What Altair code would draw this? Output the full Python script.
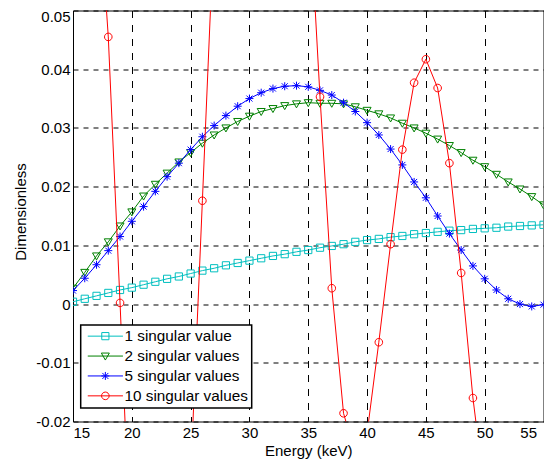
import altair as alt
import pandas as pd

energy = list(range(15, 56))

names = ["1 singular value", "2 singular values", "5 singular values", "10 singular values"]
colors = ["#00BFBF", "#008000", "#0000FF", "#FF0000"]

sv1 = [0.0004, 0.0009, 0.0014, 0.0019, 0.0024, 0.0028, 0.0033, 0.0038, 0.0043, 0.0047,
       0.0052, 0.0057, 0.0061, 0.0066, 0.0070, 0.0074, 0.0078, 0.0082, 0.0085, 0.0089,
       0.0092, 0.0096, 0.0099, 0.0102, 0.0106, 0.0109, 0.0111, 0.0114, 0.0116, 0.0119,
       0.0121, 0.0123, 0.0125, 0.0126, 0.0128, 0.0129, 0.0130, 0.0132, 0.0133, 0.0134,
       0.0135]
sv2 = [0.0027, 0.0054, 0.0082, 0.0106, 0.0133, 0.0157, 0.0184, 0.0204, 0.0223, 0.0242,
       0.0258, 0.0274, 0.0288, 0.0300, 0.0311, 0.0320, 0.0328, 0.0333, 0.0338, 0.0341,
       0.0343, 0.0342, 0.0342, 0.0341, 0.0336, 0.0330, 0.0324, 0.0317, 0.0308, 0.0300,
       0.0291, 0.0281, 0.0270, 0.0258, 0.0245, 0.0234, 0.0221, 0.0208, 0.0196, 0.0183,
       0.0169]
sv5 = [0.0023, 0.0044, 0.0067, 0.0091, 0.0115, 0.0141, 0.0166, 0.0192, 0.0217, 0.0240,
       0.0263, 0.0285, 0.0304, 0.0321, 0.0337, 0.0350, 0.0360, 0.0367, 0.0371, 0.0372,
       0.0370, 0.0364, 0.0356, 0.0343, 0.0328, 0.0309, 0.0288, 0.0264, 0.0237, 0.0208,
       0.0181, 0.0150, 0.0120, 0.0092, 0.0065, 0.0043, 0.0024, 0.0009, 0.0000, -0.0004,
       -0.0001]
sv10 = [0.065, 0.078, 0.075, 0.0455, 0.0002, -0.0475, -0.085, -0.100, -0.095, -0.070,
        -0.0294, 0.0176, 0.065, 0.100, 0.125, 0.135, 0.130, 0.120, 0.105, 0.090,
        0.0716, 0.0353, 0.0027, -0.0186, -0.0255, -0.0220, -0.0065, 0.0102, 0.0263, 0.0377,
        0.0417, 0.0368, 0.0240, 0.0053, -0.0160, -0.032, -0.045, -0.050, -0.045, -0.035,
        -0.025]

x_ticks = [15, 20, 25, 30, 35, 40, 45, 50, 55]
y_ticks = [-0.02, -0.01, 0, 0.01, 0.02, 0.03, 0.04, 0.05]

series_values = [sv1, sv2, sv5, sv10]
rows = []
for name, vals in zip(names, series_values):
    for e, v in zip(energy, vals):
        rows.append({"energy": e, "value": v, "series": name})
df = pd.DataFrame(rows)

# marker paths (unit = sqrt(size)/2 px)
marker_paths = [
    "M-0.9,-0.9H0.9V0.9H-0.9Z",
    "M-1,-0.75H1L0,1Z",
    "M-1,0H1M0,-1V1M-0.75,-0.75L0.75,0.75M-0.75,0.75L0.75,-0.75",
    "M-0.95,0A0.95,0.95 0 1,0 0.95,0A0.95,0.95 0 1,0 -0.95,0Z",
]
legend_paths = ["M-4.4,0H4.4" + p for p in marker_paths]

x_enc = alt.X("energy:Q", title="Energy (keV)",
              scale=alt.Scale(domain=[15, 55], nice=False, zero=False),
              axis=alt.Axis(values=x_ticks, format="d",
                            labelOffset={"condition": {"test": "datum.value > 54", "value": -7},
                                         "value": 0},
                            titleY=34, titleBaseline="alphabetic"))
y_enc = alt.Y("value:Q", title="Dimensionless",
              scale=alt.Scale(domain=[-0.02, 0.05], nice=False, zero=False),
              axis=alt.Axis(values=y_ticks,
                            labelExpr="replace(format(datum.value, '.2~f'), '\u2212', '-')",
                            labelOffset={"condition": {"test": "datum.value > 0.045", "value": 5.5},
                                         "value": 0},
                            titleX=-48, titleY=201, titleAngle=-90, titleBaseline="alphabetic",
                            titleAlign="center"))

layers = []
for name, col, path in zip(names, colors, marker_paths):
    base = alt.Chart(df).transform_filter(alt.datum.series == name)
    layers.append(base.mark_line(clip=True, strokeWidth=1, color=col).encode(x=x_enc, y=y_enc))
    layers.append(base.mark_point(clip=True, shape=path, size=64, filled=False,
                                  strokeWidth=1, color=col, opacity=1).encode(x=x_enc, y=y_enc))

legend_layer = alt.Chart(df).transform_filter("false").mark_point(
    filled=False, size=64, strokeWidth=1, opacity=1
).encode(
    x=x_enc, y=y_enc,
    color=alt.Color("series:N", scale=alt.Scale(domain=names, range=colors),
                    legend=alt.Legend(title=None)),
    shape=alt.Shape("series:N", scale=alt.Scale(domain=names, range=legend_paths),
                    legend=alt.Legend(title=None)),
)
layers.append(legend_layer)

chart = alt.layer(*layers).properties(
    width=470.5, height=411,
    autosize=alt.AutoSizeParams(type="none"),
    padding={"left": 65, "top": 2.5, "right": 0.5, "bottom": 37.5},
).configure_view(
    stroke="black", strokeWidth=1
).configure_axis(
    grid=True, gridColor="black", gridWidth=1, gridOpacity=1,
    domain=False, ticks=False,
    labelFont="Liberation Sans", labelFontSize=15, labelColor="black",
    titleFont="Liberation Sans", titleFontSize=15, titleFontWeight="normal", titleColor="black",
).configure_axisX(
    gridDash=[7, 7], labelPadding=4,
).configure_axisY(
    gridDash=[5, 5], labelPadding=3,
).configure_legend(
    orient="none", legendX=7.7, legendY=314.5,
    fillColor="white", strokeColor="black", strokeWidth=1.5,
    padding=3.5, rowPadding=3.9, symbolOffset=13.5, labelOffset=11.5,
    labelFont="Liberation Sans", labelFontSize=15.3, labelColor="black",
    symbolSize=64, symbolStrokeWidth=1, symbolFillColor="transparent",
    cornerRadius=0,
)

chart.save("out.html", embed_options={"renderer": "svg", "actions": False})
